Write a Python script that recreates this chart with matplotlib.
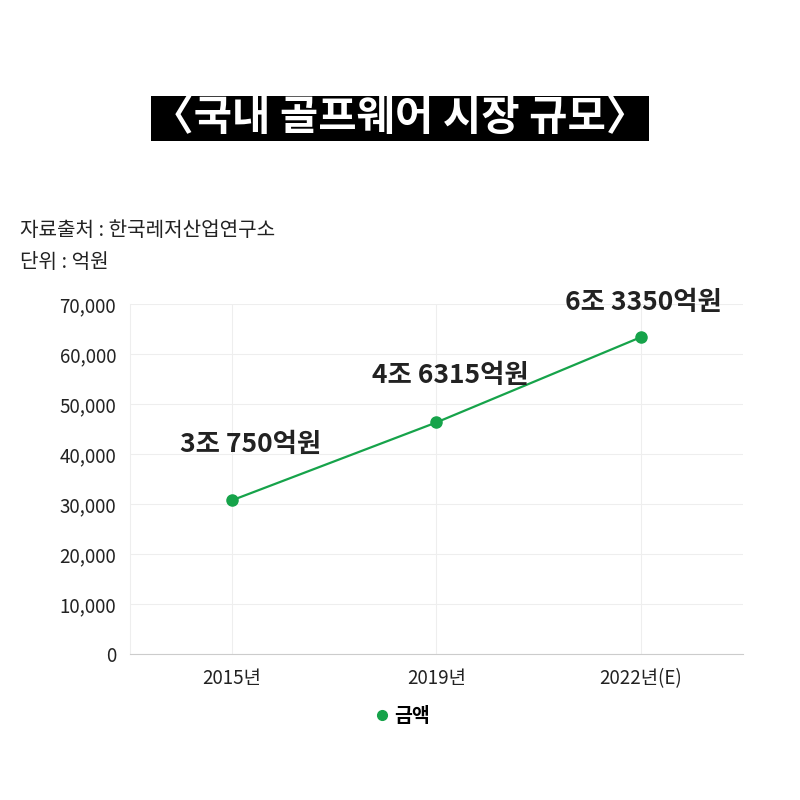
import matplotlib.pyplot as plt
from matplotlib.lines import Line2D

plt.rcParams['font.family'] = ['Noto Sans CJK KR', 'DejaVu Sans']

years = ["2015년", "2019년", "2022년(E)"]
amounts = [30750, 46315, 63350]
labels = ["3조 750억원", "4조 6315억원", "6조 3350억원"]
offsets = [(13, 40), (10, 34), (2, 25)]
green = "#16a34a"

fig = plt.figure(figsize=(8, 8), dpi=100)
ax = fig.add_axes([0.1625, 0.1825, 0.766, 0.4375])

x = list(range(len(years)))
ax.plot(x, amounts, color=green, lw=1.6, marker="o", ms=8, zorder=3)
for xi, v, t, off in zip(x, amounts, labels, offsets):
    ax.annotate(t, (xi, v), xytext=off, textcoords="offset points",
                ha="center", va="center", fontsize=19, fontweight="bold", color="#222222")

ax.set_xlim(-0.5, 2.5)
ax.set_ylim(0, 70000)
ax.set_yticks(range(0, 70001, 10000))
ax.set_yticklabels([f"{v:,}" for v in range(0, 70001, 10000)])
ax.set_xticks(x)
ax.set_xticklabels(years)
ax.tick_params(length=0, labelsize=13.5, colors="#222222", pad=10)
ax.grid(True, color="#eeeeee", lw=0.8)
for s in ["top", "right"]:
    ax.spines[s].set_visible(False)
ax.spines["left"].set_color("#eeeeee")
ax.spines["bottom"].set_color("#cccccc")

fig.text(0.5, 0.852, "〈국내 골프웨어 시장 규모〉", ha="center", va="center",
         fontsize=30, fontweight="bold", color="white",
         bbox=dict(facecolor="black", edgecolor="none", pad=1))
fig.text(0.025, 0.712, "자료출처 : 한국레저산업연구소", fontsize=14.5, va="center", color="#222222")
fig.text(0.025, 0.672, "단위 : 억원", fontsize=14.5, va="center", color="#222222")

handle = Line2D([], [], color=green, marker="o", lw=0, ms=7)
fig.legend([handle], ["금액"], loc="center", bbox_to_anchor=(0.5, 0.105),
           frameon=False, prop={"weight": "bold", "size": 14}, handletextpad=0.0,
           handlelength=1.2)

fig.savefig("out.png", dpi=100, facecolor="white")
